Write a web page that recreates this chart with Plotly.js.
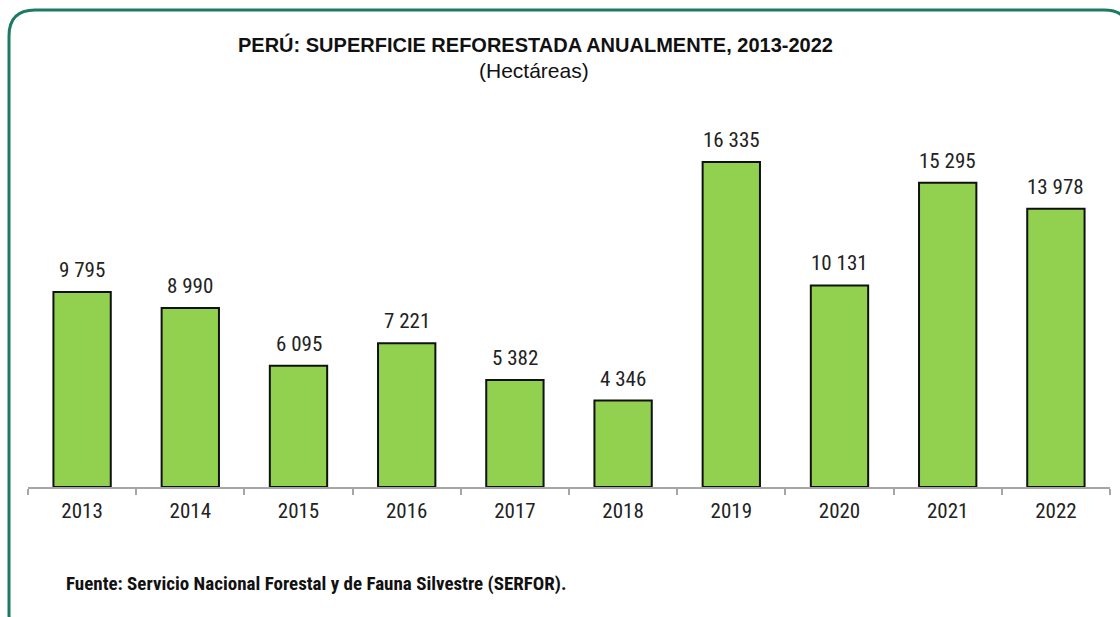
<!DOCTYPE html>
<html><head><meta charset="utf-8">
<script src="https://cdn.plot.ly/plotly-3.0.1.min.js"></script>
<style>html,body{margin:0;padding:0;background:#fff}#c{width:1120px;height:617px}</style>
</head><body><div id="c"></div>
<script>
const years = ['2013','2014','2015','2016','2017','2018','2019','2020','2021','2022'];
const hectares = [9795, 8990, 6095, 7221, 5382, 4346, 16335, 10131, 15295, 13978];
const titleText = '<b>PERÚ: SUPERFICIE REFORESTADA ANUALMENTE, 2013-2022</b>';
const subtitleText = '(Hectáreas)';
const sourceText = '<b>Fuente: Servicio Nacional Forestal y de Fauna Silvestre (SERFOR).</b>';

const W = 1120, H = 617, ml = 28, mr = 10, mt = 100, mb = 130;
const pw = W - ml - mr, ph = H - mt - mb;
const px = x => (x - ml) / pw;
const py = y => (H - mb - y) / ph;
const NARROW = '"Roboto Condensed", "Liberation Sans Narrow", sans-serif';
const WIDE = '"Liberation Sans", Arial, sans-serif';

function fmt(v){ return String(v).replace(/\B(?=(\d{3})+(?!\d))/g, ' '); }

const L=9, T=10, R=1130, B=640, r=26;
const framePath = `M ${px(L)},${py(T+r)} Q ${px(L)},${py(T)} ${px(L+r)},${py(T)} L ${px(R-r)},${py(T)} Q ${px(R)},${py(T)} ${px(R)},${py(T+r)} L ${px(R)},${py(B-r)} Q ${px(R)},${py(B)} ${px(R-r)},${py(B)} L ${px(L+r)},${py(B)} Q ${px(L)},${py(B)} ${px(L)},${py(B-r)} Z`;

const annotations = years.map((y,i)=>({
  x: i, y: hectares[i], xref:'x', yref:'y', text: fmt(hectares[i]),
  showarrow:false, yanchor:'bottom', yshift:8,
  font:{family:NARROW, size:21, color:'#222'}
}));
annotations.push({
  xref:'paper', yref:'paper', x: px(535), y: py(45), xanchor:'center', yanchor:'middle',
  text: titleText, showarrow:false, font:{family:WIDE, size:20, color:'#111'}
});
annotations.push({
  xref:'paper', yref:'paper', x: px(534), y: py(71), xanchor:'center', yanchor:'middle',
  text: subtitleText, showarrow:false, font:{family:WIDE, size:21, color:'#111'}
});
annotations.push({
  xref:'paper', yref:'paper', x: px(64), y: py(583), xanchor:'left', yanchor:'middle',
  text: sourceText, showarrow:false, font:{family:NARROW, size:19, color:'#111'}
});

Plotly.newPlot('c', [{
  type:'bar', x: years, y: hectares,
  marker:{color:'#92d050', line:{color:'#111', width:2}},
  hoverinfo:'none'
}], {
  width: W, height: H,
  margin:{l:ml, r:mr, t:mt, b:mb},
  paper_bgcolor:'#fff', plot_bgcolor:'#fff',
  bargap:0.47,
  showlegend:false,
  xaxis:{type:'category', showline:true, linecolor:'#a6a6a6', linewidth:2,
         ticks:'outside', tickson:'boundaries', ticklen:6, tickcolor:'#a6a6a6', tickwidth:2,
         ticklabelstandoff:4,
         tickfont:{family:NARROW, size:21, color:'#222'}, showgrid:false, zeroline:false, fixedrange:true},
  yaxis:{range:[0, 19447], visible:false, showgrid:false, zeroline:false, fixedrange:true},
  annotations: annotations,
  shapes:[{type:'path', xref:'paper', yref:'paper', path: framePath,
           line:{color:'#1e7a64', width:3}, fillcolor:'rgba(0,0,0,0)', layer:'above'}]
}, {displayModeBar:false, staticPlot:true});
</script></body></html>
